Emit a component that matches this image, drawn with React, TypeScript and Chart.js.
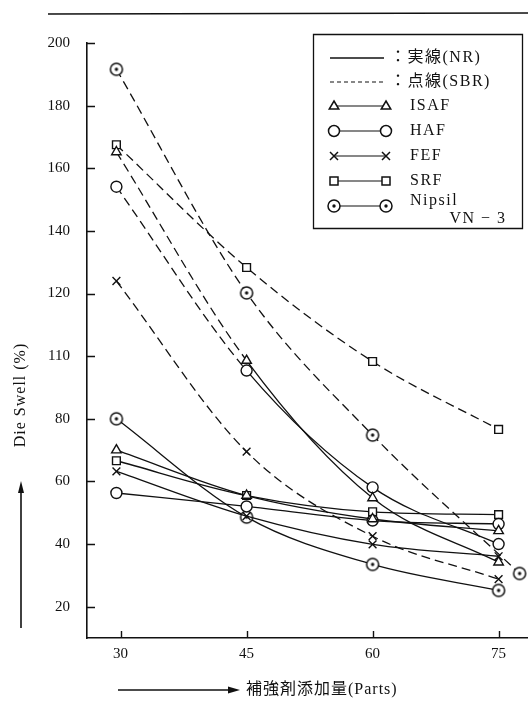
import React, { useEffect, useRef } from "react";
import { Chart, registerables } from "chart.js";

Chart.register(...registerables);

// ---- data ----
const X_VALUES = [29.5, 45, 60, 75];
const NIPSIL_SBR_X = [29.5, 45, 60, 77.5];
const X_TICKS = [30, 45, 60, 75];
const X_TICK_LABELS = ["30", "45", "60", "75"];
const Y_TICKS = [20, 40, 60, 80, 100, 120, 140, 160, 180, 200];
const Y_TICK_LABELS = ["20", "40", "60", "80", "110", "120", "140", "160", "180", "200"];

// NR (solid)
const ISAF_NR = [70, 55.5, 48, 44.2];
const HAF_NR = [56.3, 52, 47.5, 46.4];
const FEF_NR = [63.2, 48.9, 39.9, 36.1];
const SRF_NR = [66.6, 55.5, 50.3, 49.4];
const NIPSIL_NR = [80, 48.6, 33.5, 25.2];

// SBR (dashed)
const ISAF_SBR = [165.2, 98.6, 54.7, 34.2];
const HAF_SBR = [154.1, 95.4, 58.1, 40];
const FEF_SBR = [124, 69.5, 42.5, 28.8];
const SRF_SBR = [167.5, 128.3, 98.3, 76.6];
const NIPSIL_SBR = [191.6, 120.2, 74.8, 30.6];

const LEGEND_NAMES = ["ISAF", "HAF", "FEF", "SRF", "Nipsil"];
const LEGEND_LINE_NR = "：実線(NR)";
const LEGEND_LINE_SBR = "：点線(SBR)";
const LEGEND_NOTE = "VN − 3";
const X_TITLE = "補強剤添加量(Parts)";
const Y_TITLE = "Die Swell (%)";

const INK = "#111";
const SERIF = "'Liberation Serif', 'DejaVu Serif', 'Noto Sans CJK JP', serif";
const W = 528;
const H = 705;

function makeNipsil(r: number): HTMLCanvasElement {
  const s = Math.ceil(r * 2 + 4);
  const c = document.createElement("canvas");
  c.width = s;
  c.height = s;
  const g = c.getContext("2d")!;
  g.strokeStyle = INK;
  g.lineWidth = 1.5;
  g.fillStyle = "#fff";
  g.beginPath();
  g.arc(s / 2, s / 2, r, 0, Math.PI * 2);
  g.fill();
  g.stroke();
  g.fillStyle = INK;
  g.beginPath();
  g.arc(s / 2, s / 2, 1.7, 0, Math.PI * 2);
  g.fill();
  return c;
}

function drawMarker(ctx: CanvasRenderingContext2D, kind: string, x: number, y: number, nip: HTMLCanvasElement) {
  ctx.save();
  ctx.strokeStyle = INK;
  ctx.fillStyle = "#fff";
  ctx.lineWidth = 1.5;
  ctx.setLineDash([]);
  ctx.beginPath();
  if (kind === "ISAF") {
    const r = 5;
    ctx.moveTo(x, y - r);
    ctx.lineTo(x + r * 0.95, y + r * 0.6);
    ctx.lineTo(x - r * 0.95, y + r * 0.6);
    ctx.closePath();
    ctx.fill();
    ctx.stroke();
  } else if (kind === "HAF") {
    ctx.arc(x, y, 5.5, 0, Math.PI * 2);
    ctx.fill();
    ctx.stroke();
  } else if (kind === "FEF") {
    const r = 4;
    ctx.moveTo(x - r, y - r);
    ctx.lineTo(x + r, y + r);
    ctx.moveTo(x + r, y - r);
    ctx.lineTo(x - r, y + r);
    ctx.stroke();
  } else if (kind === "SRF") {
    ctx.rect(x - 4, y - 4, 8, 8);
    ctx.fill();
    ctx.stroke();
  } else {
    ctx.drawImage(nip, x - nip.width / 2, y - nip.height / 2);
  }
  ctx.restore();
}

export default function App() {
  const ref = useRef<HTMLCanvasElement | null>(null);

  useEffect(() => {
    const canvas = ref.current;
    if (!canvas) return;
    const nip = makeNipsil(6);

    const styles: Record<string, { style: any; radius: number }> = {
      ISAF: { style: "triangle", radius: 5.5 },
      HAF: { style: "circle", radius: 5.5 },
      FEF: { style: "crossRot", radius: 5.5 },
      SRF: { style: "rect", radius: 5.5 },
      Nipsil: { style: nip, radius: 6 },
    };

    const mk = (name: string, xs: number[], ys: number[], dashed: boolean, solidAfterFirst = false) => ({
      label: name + (dashed ? " (SBR)" : " (NR)"),
      data: xs.map((x, i) => ({ x, y: ys[i] })),
      borderColor: INK,
      borderWidth: 1.3,
      borderDash: dashed && !solidAfterFirst ? [9, 5] : [],
      segment: solidAfterFirst
        ? { borderDash: (c: any) => (c.p0DataIndex === 0 ? [9, 5] : []) }
        : undefined,
      pointStyle: styles[name].style,
      pointRadius: styles[name].radius,
      pointBackgroundColor: "#fff",
      pointBorderColor: INK,
      pointBorderWidth: 1.4,
      cubicInterpolationMode: "monotone",
      fill: false,
      clip: false as any,
    });

    const datasets: any[] = [
      mk("ISAF", X_VALUES, ISAF_NR, false),
      mk("HAF", X_VALUES, HAF_NR, false),
      mk("FEF", X_VALUES, FEF_NR, false),
      mk("SRF", X_VALUES, SRF_NR, false),
      mk("Nipsil", X_VALUES, NIPSIL_NR, false),
      mk("ISAF", X_VALUES, ISAF_SBR, true, true),
      mk("HAF", X_VALUES, HAF_SBR, true, true),
      mk("FEF", X_VALUES, FEF_SBR, true),
      mk("SRF", X_VALUES, SRF_SBR, true),
      mk("Nipsil", NIPSIL_SBR_X, NIPSIL_SBR, true),
    ];

    const deco = {
      id: "deco",
      afterDraw(chart: any) {
        const ctx: any = chart.ctx;
        const { left, bottom } = chart.chartArea;
        const xs = chart.scales.x;
        const ys = chart.scales.y;
        ctx.save();
        ctx.strokeStyle = INK;
        ctx.fillStyle = INK;
        ctx.lineWidth = 1.4;
        ctx.setLineDash([]);
        // inside tick marks
        ctx.beginPath();
        Y_TICKS.forEach((v) => {
          const p = Math.round(ys.getPixelForValue(v)) + 0.5;
          ctx.moveTo(left, p);
          ctx.lineTo(left + 8, p);
        });
        X_TICKS.forEach((v) => {
          const p = Math.round(xs.getPixelForValue(v)) + 0.5;
          ctx.moveTo(p, bottom);
          ctx.lineTo(p, bottom - 7);
        });
        ctx.stroke();

        // top rule
        ctx.lineWidth = 1.6;
        ctx.beginPath();
        ctx.moveTo(48, 14);
        ctx.lineTo(W, 13);
        ctx.stroke();

        // y title + arrow
        ctx.font = `16px ${SERIF}`;
        ctx.letterSpacing = "1px";
        ctx.textAlign = "center";
        ctx.textBaseline = "middle";
        ctx.save();
        ctx.translate(21, 395);
        ctx.rotate(-Math.PI / 2);
        ctx.fillText(Y_TITLE, 0, 0);
        ctx.restore();
        ctx.lineWidth = 1.6;
        ctx.beginPath();
        ctx.moveTo(21, 628);
        ctx.lineTo(21, 490);
        ctx.stroke();
        ctx.beginPath();
        ctx.moveTo(21, 481);
        ctx.lineTo(24, 493);
        ctx.lineTo(18, 493);
        ctx.closePath();
        ctx.fill();

        // x title + arrow
        ctx.beginPath();
        ctx.moveTo(118, 690);
        ctx.lineTo(230, 690);
        ctx.stroke();
        ctx.beginPath();
        ctx.moveTo(240, 690);
        ctx.lineTo(228, 686.5);
        ctx.lineTo(228, 693.5);
        ctx.closePath();
        ctx.fill();
        ctx.textAlign = "left";
        ctx.fillText(X_TITLE, 246, 690);

        // legend box
        ctx.lineWidth = 1.3;
        ctx.fillStyle = "#fff";
        ctx.beginPath();
        ctx.rect(313.5, 34.5, 209, 194);
        ctx.fill();
        ctx.stroke();
        ctx.fillStyle = INK;
        ctx.font = `16px ${SERIF}`;
        ctx.letterSpacing = "1.5px";
        ctx.textAlign = "left";
        ctx.textBaseline = "middle";
        // NR / SBR line samples
        ctx.lineWidth = 1.4;
        ctx.beginPath();
        ctx.moveTo(330, 58);
        ctx.lineTo(384, 58);
        ctx.stroke();
        ctx.fillText(LEGEND_LINE_NR, 390, 58);
        ctx.lineWidth = 1.1;
        ctx.setLineDash([4, 3]);
        ctx.beginPath();
        ctx.moveTo(330, 82);
        ctx.lineTo(384, 82);
        ctx.stroke();
        ctx.setLineDash([]);
        ctx.fillText(LEGEND_LINE_SBR, 390, 82);
        const rows = [106, 131, 156, 181, 206];
        LEGEND_NAMES.forEach((name, i) => {
          const y = rows[i];
          ctx.lineWidth = 1.2;
          ctx.beginPath();
          ctx.moveTo(334, y);
          ctx.lineTo(386, y);
          ctx.stroke();
          drawMarker(ctx, name, 334, y, nip);
          drawMarker(ctx, name, 386, y, nip);
          ctx.fillText(name, 410, name === "Nipsil" ? y - 5 : y);
        });
        ctx.textAlign = "center";
        ctx.fillText(LEGEND_NOTE, 478, 219);
        ctx.restore();
      },
    };

    const chart = new Chart(canvas, {
      type: "line",
      data: { datasets },
      plugins: [deco],
      options: {
        responsive: false,
        animation: false,
        events: [],
        layout: { autoPadding: false, padding: { top: 43, left: 0, right: 0, bottom: 0 } },
        plugins: { legend: { display: false }, tooltip: { enabled: false } },
        scales: {
          x: {
            type: "linear",
            min: 26,
            max: 78.5,
            grid: { display: false, drawTicks: false },
            border: { display: true, color: INK, width: 1.6 },
            ticks: {
              color: INK,
              font: { family: SERIF, size: 15 },
              padding: 7,
              maxRotation: 0,
              callback: (v: any) => {
                const i = X_TICKS.indexOf(Number(v));
                return i >= 0 ? X_TICK_LABELS[i] : "";
              },
            },
            afterBuildTicks: (s: any) => {
              s.ticks = X_TICKS.map((v) => ({ value: v }));
            },
            afterFit: (s: any) => {
              s.height = H - 638;
            },
          },
          y: {
            type: "linear",
            min: 10,
            max: 200,
            grid: { display: false, drawTicks: false },
            border: { display: true, color: INK, width: 1.6 },
            ticks: {
              color: INK,
              font: { family: SERIF, size: 15 },
              padding: 17,
              callback: (v: any) => {
                const i = Y_TICKS.indexOf(Number(v));
                return i >= 0 ? Y_TICK_LABELS[i] : "";
              },
            },
            afterBuildTicks: (s: any) => {
              s.ticks = Y_TICKS.map((v) => ({ value: v }));
            },
            afterFit: (s: any) => {
              s.width = 87;
            },
          },
        },
      },
    });
    return () => chart.destroy();
  }, []);

  return (
    <div style={{ position: "fixed", left: 0, top: 0, width: W, height: H, background: "#fff" }}>
      <canvas ref={ref} width={W} height={H} style={{ width: W, height: H, display: "block" }} />
    </div>
  );
}
